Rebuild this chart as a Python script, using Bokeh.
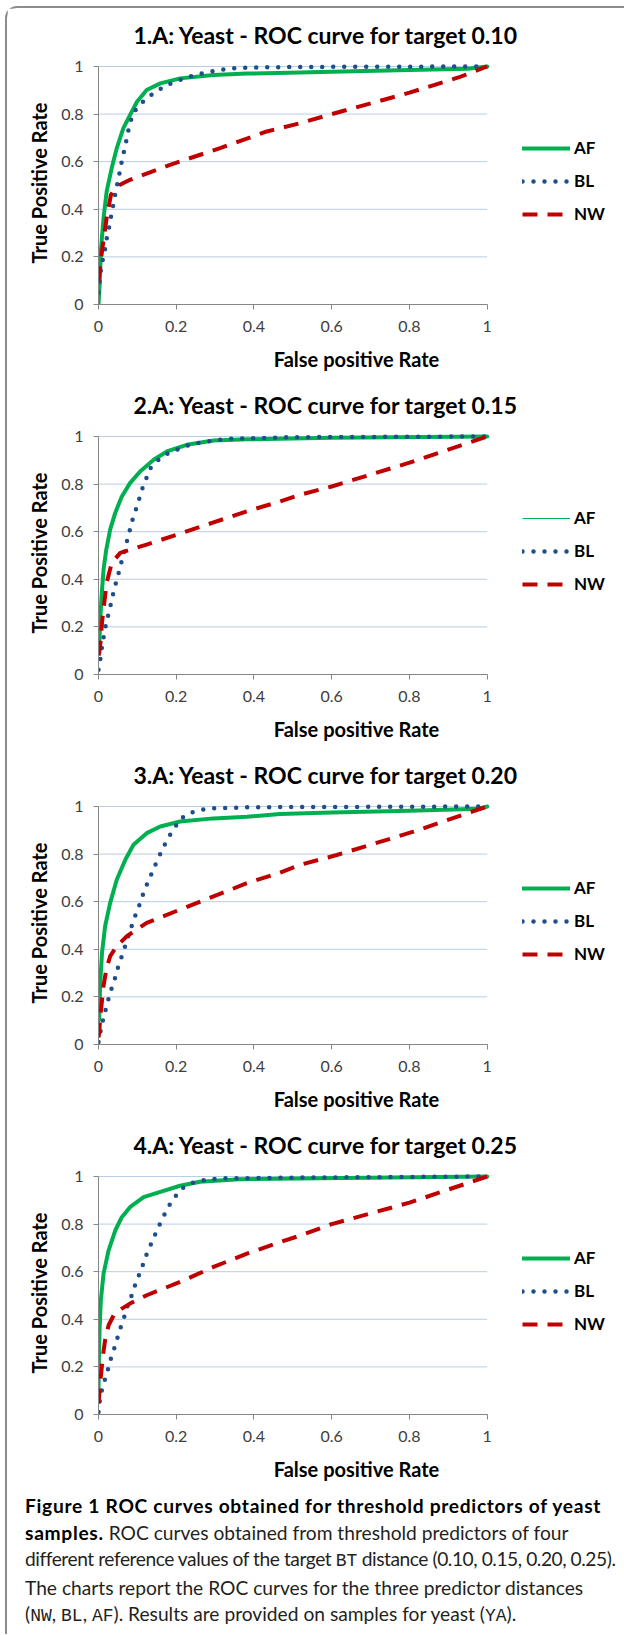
from bokeh.plotting import figure
from bokeh.models import Range1d, FixedTicker, Legend, LegendItem, Div, CustomJSTickFormatter
from bokeh.layouts import column
from bokeh.embed import file_html
from bokeh.resources import INLINE

# ---------------- data ----------------
TITLES = [
    "1.A: Yeast - ROC curve for target 0.10",
    "2.A: Yeast - ROC curve for target 0.15",
    "3.A: Yeast - ROC curve for target 0.20",
    "4.A: Yeast - ROC curve for target 0.25",
]
SERIES = ["AF", "BL", "NW"]
X_TICKS = [0, 0.2, 0.4, 0.6, 0.8, 1]
X_TICK_LABELS = ["0", "0.2", "0.4", "0.6", "0.8", "1"]
Y_TICKS = [0, 0.2, 0.4, 0.6, 0.8, 1]
Y_TICK_LABELS = ["0", "0.2", "0.4", "0.6", "0.8", "1"]
X_TITLE = "False positive Rate"
Y_TITLE = "True Positive Rate"

# panel 1 : target 0.10
AF1_X = [0, 0.003, 0.006, 0.013, 0.021, 0.034, 0.047, 0.064, 0.081, 0.099, 0.124, 0.159, 0.21, 0.296, 0.382, 0.519, 0.6, 0.8, 0.95, 1.0]
AF1_Y = [0, 0.084, 0.224, 0.364, 0.475, 0.573, 0.657, 0.741, 0.796, 0.852, 0.901, 0.929, 0.95, 0.964, 0.97, 0.975, 0.978, 0.985, 0.99, 1.0]
BL1_X = [0, 0.003, 0.006, 0.011, 0.017, 0.021, 0.027, 0.032, 0.037, 0.042, 0.047, 0.053, 0.058, 0.064, 0.07, 0.075, 0.081, 0.09, 0.107, 0.129, 0.152, 0.176, 0.202, 0.227, 0.253, 0.279, 0.304, 0.339, 0.382, 0.5, 1.0]
BL1_Y = [0.05, 0.098, 0.144, 0.189, 0.234, 0.276, 0.322, 0.368, 0.41, 0.454, 0.496, 0.543, 0.587, 0.632, 0.675, 0.718, 0.762, 0.806, 0.841, 0.873, 0.898, 0.922, 0.939, 0.953, 0.967, 0.975, 0.983, 0.992, 0.995, 0.998, 1.0]
NW1_X = [0, 0.009, 0.021, 0.032, 0.047, 0.081, 0.184, 0.313, 0.433, 0.519, 0.6, 0.8, 0.93, 1.0]
NW1_Y = [0.098, 0.224, 0.364, 0.461, 0.496, 0.524, 0.587, 0.657, 0.727, 0.762, 0.8, 0.89, 0.956, 1.0]

# panel 2 : target 0.15
AF2_X = [0, 0.002, 0.004, 0.008, 0.013, 0.02, 0.03, 0.043, 0.06, 0.081, 0.107, 0.142, 0.176, 0.227, 0.296, 0.382, 0.6, 1.0]
AF2_Y = [0.1, 0.106, 0.218, 0.33, 0.441, 0.525, 0.609, 0.679, 0.748, 0.804, 0.853, 0.902, 0.937, 0.965, 0.983, 0.988, 0.995, 1.0]
BL2_X = [0, 0.003, 0.006, 0.01, 0.015, 0.02, 0.027, 0.033, 0.039, 0.046, 0.053, 0.06, 0.067, 0.074, 0.081, 0.088, 0.097, 0.105, 0.113, 0.123, 0.133, 0.152, 0.176, 0.202, 0.227, 0.253, 0.283, 0.309, 0.339, 0.5, 1.0]
BL2_Y = [0.02, 0.04, 0.084, 0.128, 0.173, 0.218, 0.262, 0.306, 0.349, 0.392, 0.434, 0.479, 0.522, 0.565, 0.609, 0.653, 0.697, 0.739, 0.782, 0.824, 0.866, 0.899, 0.926, 0.944, 0.961, 0.972, 0.98, 0.986, 0.99, 0.997, 1.0]
NW2_X = [0, 0.002, 0.006, 0.009, 0.015, 0.021, 0.034, 0.056, 0.124, 0.21, 0.296, 0.382, 0.467, 0.519, 0.6, 0.8, 1.0]
NW2_Y = [0.08, 0.092, 0.148, 0.218, 0.302, 0.385, 0.469, 0.511, 0.546, 0.592, 0.639, 0.686, 0.727, 0.755, 0.79, 0.89, 1.0]

# panel 3 : target 0.20
AF3_X = [0, 0.002, 0.004, 0.009, 0.017, 0.03, 0.047, 0.069, 0.09, 0.124, 0.159, 0.21, 0.296, 0.382, 0.467, 0.6, 0.8, 0.98, 1.0]
AF3_Y = [0.1, 0.106, 0.246, 0.385, 0.497, 0.595, 0.692, 0.776, 0.839, 0.888, 0.916, 0.937, 0.95, 0.957, 0.968, 0.975, 0.982, 0.99, 1.0]
BL3_X = [0, 0.002, 0.007, 0.013, 0.02, 0.027, 0.035, 0.044, 0.051, 0.06, 0.069, 0.077, 0.086, 0.095, 0.105, 0.114, 0.124, 0.135, 0.146, 0.157, 0.169, 0.182, 0.197, 0.21, 0.23, 0.26, 0.3, 0.4, 1.0]
BL3_Y = [0.01, 0.027, 0.07, 0.113, 0.156, 0.2, 0.243, 0.286, 0.329, 0.371, 0.415, 0.458, 0.501, 0.543, 0.585, 0.628, 0.67, 0.712, 0.754, 0.794, 0.835, 0.875, 0.913, 0.946, 0.97, 0.985, 0.993, 0.997, 1.0]
NW3_X = [0, 0.002, 0.004, 0.008, 0.013, 0.02, 0.03, 0.047, 0.073, 0.124, 0.21, 0.296, 0.382, 0.467, 0.519, 0.613, 0.81, 1.0]
NW3_Y = [0.03, 0.05, 0.106, 0.169, 0.246, 0.315, 0.371, 0.413, 0.455, 0.511, 0.567, 0.622, 0.678, 0.722, 0.755, 0.796, 0.894, 1.0]

# panel 4 : target 0.25
AF4_X = [0, 0.001, 0.003, 0.006, 0.013, 0.026, 0.043, 0.06, 0.081, 0.116, 0.159, 0.21, 0.261, 0.363, 0.568, 1.0]
AF4_Y = [0.088, 0.228, 0.368, 0.48, 0.592, 0.69, 0.773, 0.829, 0.871, 0.913, 0.935, 0.961, 0.978, 0.988, 0.993, 1.0]
BL4_X = [0, 0.001, 0.004, 0.01, 0.018, 0.026, 0.033, 0.042, 0.05, 0.058, 0.067, 0.075, 0.085, 0.094, 0.104, 0.114, 0.123, 0.134, 0.145, 0.156, 0.168, 0.181, 0.196, 0.212, 0.235, 0.264, 0.29, 0.32, 0.5, 1.0]
BL4_Y = [0.01, 0.024, 0.067, 0.112, 0.155, 0.199, 0.242, 0.285, 0.329, 0.371, 0.414, 0.457, 0.499, 0.543, 0.585, 0.628, 0.67, 0.712, 0.754, 0.794, 0.835, 0.876, 0.912, 0.947, 0.97, 0.982, 0.989, 0.992, 0.995, 1.0]
NW4_X = [0, 0.003, 0.006, 0.011, 0.017, 0.026, 0.039, 0.06, 0.081, 0.124, 0.21, 0.296, 0.382, 0.467, 0.519, 0.6, 0.8, 1.0]
NW4_Y = [0.046, 0.102, 0.158, 0.242, 0.312, 0.375, 0.417, 0.445, 0.466, 0.501, 0.557, 0.62, 0.676, 0.724, 0.752, 0.8, 0.89, 1.0]

PANELS = [
    (AF1_X, AF1_Y, BL1_X, BL1_Y, NW1_X, NW1_Y),
    (AF2_X, AF2_Y, BL2_X, BL2_Y, NW2_X, NW2_Y),
    (AF3_X, AF3_Y, BL3_X, BL3_Y, NW3_X, NW3_Y),
    (AF4_X, AF4_Y, BL4_X, BL4_Y, NW4_X, NW4_Y),
]
# panel 2's legend shows a thin AF sample line
AF_THIN_LEGEND = [False, True, False, False]

# ---------------- style / layout ----------------
FONT = "Lato"
GREEN = "#00b050"
BLUE = "#1f4e8c"
RED = "#c00000"
GRID = "#b9cde5"
AXIS = "#868686"

FIG_W, FIG_H = 617, 370
BORDER_L, BORDER_R, BORDER_T, BORDER_B = 91, 10, 52, 74
PX_PER_UNIT_X = 388.7          # pixels spanned by x = 0..1
PX_PER_UNIT_Y = 239.0          # pixels spanned by y = 0..1
FRAME_W = FIG_W - BORDER_L - BORDER_R
FRAME_H = FIG_H - BORDER_T - BORDER_B
X_END = FRAME_W / PX_PER_UNIT_X   # room on the right of x=1 for the legend
Y_END = FRAME_H / PX_PER_UNIT_Y   # small headroom above y=1


def tick_formatter(tick_values, tick_labels):
    return CustomJSTickFormatter(
        args=dict(tvals=tick_values, tlabs=tick_labels),
        code="const k = tvals.findIndex(t => Math.abs(t - tick) < 1e-9); return k >= 0 ? tlabs[k] : '';",
    )


def make_panel(i):
    afx, afy, blx, bly, nwx, nwy = PANELS[i]
    p = figure(
        width=FIG_W, height=FIG_H,
        x_range=Range1d(0, X_END), y_range=Range1d(0, Y_END),
        output_backend="svg", toolbar_location=None,
        min_border_left=BORDER_L, min_border_right=BORDER_R,
        min_border_top=BORDER_T, min_border_bottom=BORDER_B,
    )
    p.outline_line_color = None
    p.background_fill_color = "white"
    p.border_fill_color = "white"

    p.title.text = TITLES[i]
    p.title.text_font = FONT
    p.title.text_font_size = "23px"
    p.title.text_font_style = "bold"
    p.title.text_color = "#000000"
    p.title.align = "left"
    p.title.offset = 35
    p.title.vertical_align = "middle"
    p.title.standoff = 23

    # horizontal gridlines spanning x = 0..1 only (y = 0 is the axis itself)
    p.xgrid.visible = False
    p.ygrid.visible = False
    gy = Y_TICKS[1:]
    p.segment(x0=[X_TICKS[0]] * len(gy), x1=[X_TICKS[-1]] * len(gy), y0=gy, y1=gy,
              line_color=GRID, line_width=1, level="underlay")

    for ax, ticks, labels in ((p.xaxis[0], X_TICKS, X_TICK_LABELS), (p.yaxis[0], Y_TICKS, Y_TICK_LABELS)):
        ax.ticker = FixedTicker(ticks=ticks)
        ax.formatter = tick_formatter(ticks, labels)
        ax.bounds = (ticks[0], ticks[-1])
        ax.axis_line_color = AXIS
        ax.axis_line_width = 1
        ax.major_tick_line_color = AXIS
        ax.major_tick_in = 0
        ax.major_tick_out = 5
        ax.minor_tick_line_color = None
        ax.major_label_text_font = FONT
        ax.major_label_text_font_size = "16px"
        ax.major_label_text_color = "#404040"
        ax.axis_label_text_font = FONT
        ax.axis_label_text_font_size = "20px"
        ax.axis_label_text_font_style = "bold"
        ax.axis_label_text_color = "#000000"
    p.xaxis.axis_label = X_TITLE
    p.yaxis.axis_label = Y_TITLE
    p.xaxis.major_label_standoff = 11
    p.yaxis.major_label_standoff = 10
    p.xaxis.axis_label_standoff = 12
    p.yaxis.axis_label_standoff = 7

    r_thin = None
    if AF_THIN_LEGEND[i]:
        r_thin = p.line(afx, afy, line_color=GREEN, line_width=1.2)
    r_af = p.line(afx, afy, line_color=GREEN, line_width=4, line_join="round", line_cap="round")
    r_bl = p.line(blx, bly, line_color=BLUE, line_width=4.5, line_dash="0 11", line_cap="round", line_join="round")
    r_nw = p.line(nwx, nwy, line_color=RED, line_width=4, line_dash="15 10", line_join="round")

    legend = Legend(
        items=[LegendItem(label=SERIES[0], renderers=[r_thin if r_thin is not None else r_af]),
               LegendItem(label=SERIES[1], renderers=[r_bl]),
               LegendItem(label=SERIES[2], renderers=[r_nw])],
        location=(424, 80), orientation="vertical",
        glyph_width=48, glyph_height=20, label_height=20, label_standoff=4,
        spacing=12, padding=0, margin=0,
        border_line_color=None, background_fill_alpha=0,
        label_text_font=FONT, label_text_font_style="bold",
        label_text_font_size="17px", label_text_color="#000000",
    )
    p.add_layout(legend)
    return p


panels = [make_panel(i) for i in range(4)]

MONO = "font-family:'Liberation Mono',monospace;font-size:18px;letter-spacing:0;"
BOLD = "color:#000;letter-spacing:0.7px;"
CAPTION = (
    f"<div style=\"font-family:Lato,sans-serif;font-size:19.2px;line-height:26.5px;color:#231f20;"
    f"padding-top:0px;padding-left:13px;white-space:nowrap;\">"
    f"<b style='{BOLD}'>Figure 1 ROC curves obtained for threshold predictors of yeast</b><br>"
    f"<b style='{BOLD}'>samples.</b> ROC curves obtained from threshold predictors of four<br>"
    f"<span style='letter-spacing:-0.45px;'>different reference values of the target <span style=\"{MONO}\">BT</span> distance (0.10, 0.15, 0.20, 0.25).</span><br>"
    f"The charts report the ROC curves for the three predictor distances<br>"
    f"(<span style=\"{MONO}\">NW</span>, <span style=\"{MONO}\">BL</span>, <span style=\"{MONO}\">AF</span>). "
    f"Results are provided on samples for yeast (<span style=\"{MONO}\">YA</span>)."
    f"</div>"
)
caption = Div(text=CAPTION, width=FIG_W, height=136)

layout = column(
    *panels, caption,
    styles={
        "border-top": "2px solid #8c8c8c",
        "border-left": "2px solid #8c8c8c",
        "border-top-left-radius": "12px",
        "margin-left": "5px",
        "margin-top": "6px",
    },
)

open("out.html", "w").write(file_html(layout, INLINE))
